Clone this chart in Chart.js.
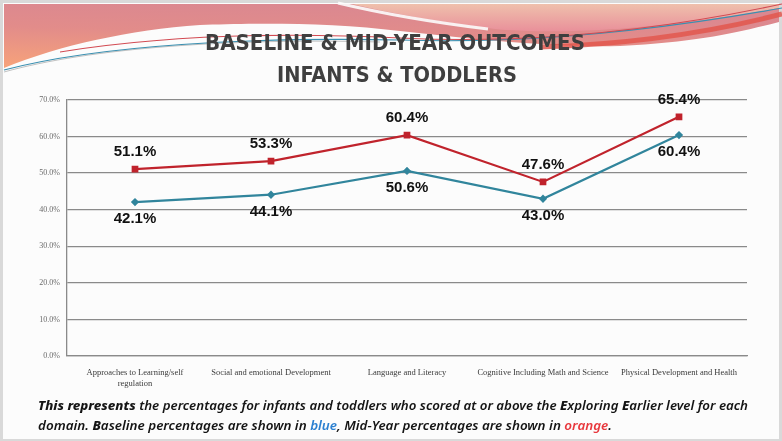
<!DOCTYPE html>
<html>
<head>
<meta charset="utf-8">
<script src="https://cdn.jsdelivr.net/npm/chart.js@4/dist/chart.umd.min.js"></script>
<style>
    html, body { margin: 0; padding: 0; }
    body { width: 782px; height: 441px; background: #d9d9d9; position: relative; overflow: hidden; }
    .slide { position: absolute; left: 3px; top: 3px; width: 776px; height: 436px; background: #fcfcfc; }
    #deco, #texts { position: absolute; left: 0; top: 0; }
    #chartCanvas { position: absolute; left: 0; top: 0; }
</style>
</head>
<body>
<div class="slide"></div>

<!-- Bandeau decorativo do cabeçalho -->
<svg id="deco" width="782" height="441">
    <defs>
        <linearGradient id="bandGrad" x1="0" y1="1" x2="0.3" y2="0">
            <stop offset="0" stop-color="#f7a37a"/>
            <stop offset="0.6" stop-color="#e28c8a"/>
            <stop offset="1" stop-color="#db8890"/>
        </linearGradient>
        <linearGradient id="peachGrad" x1="0" y1="0" x2="0" y2="1">
            <stop offset="0" stop-color="#efc0ac"/>
            <stop offset="1" stop-color="#e9909a"/>
        </linearGradient>
    </defs>
    <path d="M4,4 H779 V22 C740,32 700,42 620,46 C560,48 480,40 400,31 C330,22 250,23 200,25 C130,30 60,45 4,68 Z" fill="url(#bandGrad)"/>
    <path d="M352,4 C395,14 440,22 495,29 C570,36 680,26 779,8 V4 Z" fill="url(#peachGrad)"/>
    <path d="M338,3 C380,13 430,22 488,29" stroke="#fcfcfc" stroke-width="3" fill="none" opacity="0.9"/>
    <path d="M540,47 C640,44 720,30 782,14" stroke="#e2574e" stroke-width="5" fill="none" opacity="0.85"/>
    <path d="M4,72 C90,48 230,38 380,42" stroke="#9a9a9a" stroke-width="1" fill="none" opacity="0.6"/>
    <path d="M4,70 C100,45 250,37 400,40 C520,44 650,32 782,8" stroke="#3a8fb0" stroke-width="1.2" fill="none"/>
    <path d="M60,52 C160,36 280,32 400,38 C540,45 670,28 782,4" stroke="#d24a52" stroke-width="1.1" fill="none"/>
</svg>

<canvas id="chartCanvas" width="782" height="441"></canvas>

<!-- Título e nota de rodapé -->
<svg id="texts" width="782" height="441">
    <g font-family="'DejaVu Sans Condensed', 'DejaVu Sans', sans-serif" font-weight="bold" font-size="22" fill="#3f3f3f" text-anchor="middle">
        <text x="395" y="50" textLength="380" lengthAdjust="spacingAndGlyphs">BASELINE &amp; MID-YEAR OUTCOMES</text>
        <text x="397" y="82" textLength="240" lengthAdjust="spacingAndGlyphs">INFANTS &amp; TODDLERS</text>
    </g>
    <g font-family="'Noto Sans', sans-serif" font-style="italic" font-size="13" font-weight="600" fill="#141414">
        <text x="38" y="410" textLength="710" lengthAdjust="spacingAndGlyphs"><tspan font-weight="800">This represents</tspan> the percentages for infants and toddlers who scored at or above the <tspan font-weight="800">E</tspan>xploring <tspan font-weight="800">E</tspan>arlier level for each</text>
        <text x="38" y="430" textLength="574" lengthAdjust="spacingAndGlyphs">domain. <tspan font-weight="800">B</tspan>aseline percentages are shown in <tspan fill="#2a7fd0">blue</tspan>, Mid-Year percentages are shown in <tspan fill="#e8383d">orange</tspan>.</text>
    </g>
</svg>

<script>
// Dados do gráfico
const categorias = [
    ['Approaches to Learning/self', 'regulation'],
    'Social and emotional Development',
    'Language and Literacy',
    'Cognitive Including Math and Science',
    'Physical Development and Health'
];
const baseline = [42.1, 44.1, 50.6, 43.0, 60.4];
const midYear = [51.1, 53.3, 60.4, 47.6, 65.4];
const yTicks = [0, 10, 20, 30, 40, 50, 60, 70];

// Plugin simples para os rótulos de valor (acima / abaixo dos pontos)
const valueLabels = {
    id: 'valueLabels',
    afterDatasetsDraw(chart) {
        const ctx = chart.ctx;
        ctx.save();
        ctx.font = 'bold 15px "Liberation Sans", Arial, sans-serif';
        ctx.fillStyle = '#111';
        ctx.textAlign = 'center';
        ctx.textBaseline = 'middle';
        chart.data.datasets.forEach((ds, i) => {
            const meta = chart.getDatasetMeta(i);
            const offset = ds.labelSide === 'above' ? -17 : 17;
            meta.data.forEach((pt, j) => {
                ctx.fillText(ds.data[j].toFixed(1) + '%', pt.x, pt.y + offset);
            });
        });
        ctx.restore();
    }
};

const ctx = document.getElementById('chartCanvas').getContext('2d');
new Chart(ctx, {
    type: 'line',
    data: {
        labels: categorias,
        datasets: [
            {
                label: 'Mid-Year',
                data: midYear,
                labelSide: 'above',
                borderColor: '#c0232c',
                backgroundColor: '#c0232c',
                borderWidth: 2.2,
                pointStyle: 'rect',
                pointRadius: 3.2,
                tension: 0
            },
            {
                label: 'Baseline',
                data: baseline,
                labelSide: 'below',
                borderColor: '#31859c',
                backgroundColor: '#31859c',
                borderWidth: 2.2,
                pointStyle: 'rectRot',
                pointRadius: 2.6,
                tension: 0
            }
        ]
    },
    options: {
        responsive: false,
        animation: false,
        devicePixelRatio: 1,
        layout: { padding: { top: 100, right: 35, left: 0, bottom: 0 } },
        plugins: {
            legend: { display: false },
            tooltip: { enabled: false }
        },
        scales: {
            x: {
                offset: true,
                grid: { display: false },
                border: { display: true, color: '#8a8a8a', width: 1.3 },
                ticks: {
                    autoSkip: false,
                    maxRotation: 0,
                    padding: 4,
                    color: '#3a3a3a',
                    font: { family: '"Liberation Serif", "DejaVu Serif", serif', size: 8.5 }
                },
                afterFit: s => { s.height = 85; }
            },
            y: {
                min: 0,
                max: 70,
                afterBuildTicks: s => { s.ticks = yTicks.map(v => ({ value: v })); },
                grid: { color: '#8a8a8a', lineWidth: 1.3, drawTicks: false },
                border: { display: true, color: '#8a8a8a', width: 1.3 },
                ticks: {
                    padding: 7,
                    color: '#6a6a6a',
                    font: { family: '"Liberation Serif", "DejaVu Serif", serif', size: 8 },
                    callback: v => v.toFixed(1) + '%'
                },
                afterFit: s => { s.width = 67; }
            }
        }
    },
    plugins: [valueLabels]
});
</script>
</body>
</html>
